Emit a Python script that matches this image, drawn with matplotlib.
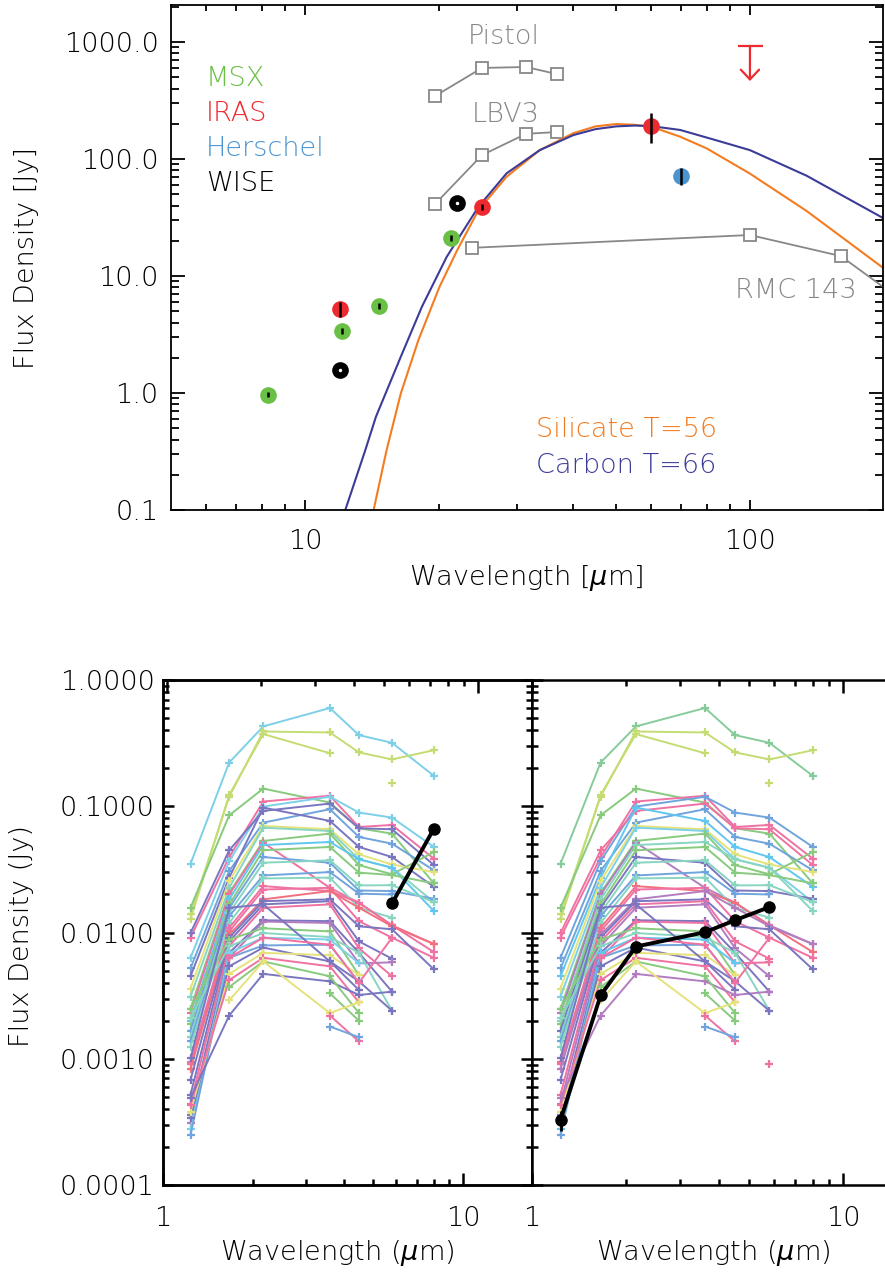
import matplotlib
matplotlib.use('Agg')
import matplotlib.pyplot as plt
import numpy as np
from matplotlib.ticker import LogLocator, NullFormatter

plt.rcParams['font.family'] = ['DejaVu Sans']
plt.rcParams['font.weight'] = 'light'
plt.rcParams['mathtext.fontset'] = 'dejavusans'

# ---------------- top panel data (Jy) ----------------
msx_wave = [8.28, 12.13, 14.65, 21.3]
msx_flux = [0.97, 3.39, 5.54, 21.1]
msx_err = [0.05, 0.18, 0.3, 1.1]

iras_wave = [12.0, 25.0, 60.0]
iras_flux = [5.2, 39.1, 191.0]
iras_err = [0.77, 2.2, 55.0]
iras_ul_wave = 100.0
iras_ul_flux = 925.0
iras_ul_tip = 464.0

wise_wave = [12.0, 22.0]
wise_flux = [1.57, 42.0]

herschel_wave = [70.0]
herschel_flux = [71.6]
herschel_err = [12.0]

pistol_wave = [19.6, 25.0, 31.4, 36.8]
pistol_flux = [345, 600, 611, 532]
lbv3_wave = [19.6, 25.0, 31.4, 36.8]
lbv3_flux = [41.2, 108, 164, 170]
rmc143_wave = [23.7, 100, 160, 250]
rmc143_flux = [17.4, 22.4, 14.8, 4.3]

sil_wave = [14.25, 15.26, 16.42, 17.99, 20.07, 22.0, 24.55, 28.4, 33.7, 40.1,
            45.0, 50.1, 55.0, 60.0, 69.7, 80.0, 100.0, 134.0, 200.0]
sil_flux = [0.098, 0.326, 0.99, 2.84, 8.11, 16.7, 36.6, 70.6, 119, 166,
            190, 199, 196, 189, 155, 123, 75, 36, 11.6]
carb_wave = [12.3, 13.67, 14.44, 16.42, 18.32, 20.83, 24.55, 28.4, 33.7, 40.1,
             45.0, 50.1, 55.0, 60.0, 69.7, 83.7, 100.0, 134.0, 200.0]
carb_flux = [0.098, 0.326, 0.627, 2.04, 5.47, 14.6, 39.1, 75.5, 119, 160,
             180, 190, 193, 191, 177, 145, 119, 72, 31]

# ---------------- bottom panels data (Jy) ----------------
bands = np.array([1.235, 1.662, 2.159, 3.6, 4.5, 5.8, 8.0])
n = np.nan
sources = [
    [.035, .222, .429, .600, .366, .318, .174],
    [.0139, .119, .391, .384, .267, .235, .278],
    [.0127, .123, .373, .263, n, n, n],
    [n, n, n, n, n, .152, n],
    [.0157, .0848, .138, .107, .0669, .0607, .0245],
    [.0091, .0396, .109, .121, .0685, .0711, .0384],
    [.0063, .0368, .0994, .119, .0891, .0813, .0476],
    [.0099, .0448, .0918, .105, .0669, .0657, .0342],
    [.0052, .0307, .0742, .0947, .0571, .0505, .0311],
    [.0045, .0272, .0976, .0765, .0476, .0396, .0230],
    [.0036, .0256, .0698, .0657, .0416, .0346, .0301],
    [.0031, .0226, .0677, .0637, .0380, .0326, .0174],
    [.0025, .0206, .0531, .0607, .0342, .0289, .0434],
    [.0023, .0200, .0515, .0226, .0172, .0114, .0081],
    [.0020, .0183, .0493, .0521, .0380, .0326, .0148],
    [.0019, .0167, .0448, .0476, .0298, .0285, .0245],
    [.00167, .0157, .0396, .0357, .0215, .0213, .0185],
    [.0015, .0143, .0357, .0373, .0236, .0237, .0174],
    [.00137, .0135, .0283, .0301, .0203, .0200, n],
    [.00125, .0119, .0268, .0272, .0157, .0131, n],
    [.00095, .0109, .0233, .0213, .0172, .0114, .0070],
    [.00091, .0102, .0219, .0226, .0123, .0091, .0063],
    [.00083, .0096, .0183, .0213, .0157, .0112, .0081],
    [.00068, .0091, .0177, .0183, .0112, .0106, .0051],
    [.00052, .0085, .0167, .0177, .0085, .0062, n],
    [.00044, .0078, .0157, .0167, .0075, .0045, n],
    [.00036, .0069, .0125, .0123, .0069, .0034, n],
    [.00031, .0063, .0122, .0119, .0057, .0058, n],
    [.0025, .0088, .0108, .0102, .0046, n, n],
    [.0021, .0078, .0099, .0092, .0069, .0024, n],
    [.00028, .0069, .0091, .0088, .0057, n, n],
    [.00025, .0063, .0079, .0080, .0040, n, n],
    [.00034, .0054, .0076, .0059, .0035, n, n],
    [.00038, .0047, .0069, .0066, .0046, n, n],
    [.00043, .0042, .0063, .0054, .0028, n, n],
    [.00049, .0022, .0047, .0041, .0032, .0034, n],
    [n, .0037, .0059, .0045, .0023, n, n],
    [n, n, n, .0033, .0020, n, n],
    [n, .0029, .0059, .0023, .0028, n, n],
    [n, n, n, .0022, .00137, n, n],
    [n, n, n, .0018, .00148, n, n],
    [.00101, .0157, .0167, .0059, .0041, .0024, n],
    [n, .0063, .0091, .0080, .0040, .0091, n],
]
colors_left = ['cyan', 'ygreen', 'ygreen', 'ygreen', 'green', 'pink', 'cyan', 'purple',
               'blue', 'purple', 'yellow', 'teal', 'green', 'pink', 'sky', 'green',
               'blue', 'teal', 'blue', 'teal', 'pink', 'pink', 'red', 'purple',
               'purple', 'pink', 'purple', 'magenta', 'green', 'teal', 'cyan', 'blue',
               'purple', 'yellow', 'pink', 'purple', 'green', 'green', 'yellow', 'pink',
               'blue', 'purple', 'pink']
colors_right = ['mint', 'ygreen', 'ygreen', 'ygreen', 'green', 'pink', 'blue', 'pink',
                'blue', 'sky', 'yellow', 'cyan', 'green', 'magenta', 'teal', 'green',
                'purple', 'teal', 'blue', 'teal', 'red', 'pink', 'magenta', 'purple',
                'pink', 'magenta', 'purple', 'pink', 'green', 'teal', 'sky', 'blue',
                'purple', 'yellow', 'pink', 'magenta', 'green', 'green', 'yellow', 'pink',
                'blue', 'purple', 'pink']
palette = {'cyan': '#7dd0e8', 'ygreen': '#c4dc72', 'green': '#88ca7e', 'pink': '#ef72a2',
           'purple': '#7a76c0', 'blue': '#70a4de', 'yellow': '#e6e27a', 'teal': '#88d6c2',
           'red': '#f2707e', 'magenta': '#b47cc0', 'sky': '#62c6ee', 'mint': '#86cc9a'}

left_black_wave = [5.8, 8.0]
left_black_flux = [0.0170, 0.0665]
right_black_wave = [1.235, 1.662, 2.159, 3.6, 4.5, 5.8]
right_black_flux = [0.000328, 0.00318, 0.00774, 0.01005, 0.01252, 0.0159]
right_black_err = [0.00006, 0, 0, 0, 0, 0]
right_extra_wave = [5.8]
right_extra_flux = [0.00091]

fs = 19.5
fig = plt.figure(figsize=(8.85, 12.74), dpi=100)

# ================= top panel =================
ax = fig.add_axes([171/885, 1-510/1274, 712/885, 505/1274])
ax.set_xscale('log')
ax.set_yscale('log')
ax.set_xlim(10**0.699, 10**2.299)
ax.set_ylim(0.1, 10**3.316)

gray = '#888888'
ax.plot(pistol_wave, pistol_flux, color=gray, lw=1.3, marker='s', ms=9, mfc='white', mec=gray, mew=1.3)
ax.plot(lbv3_wave, lbv3_flux, color=gray, lw=1.3, marker='s', ms=9, mfc='white', mec=gray, mew=1.3)
ax.plot(rmc143_wave, rmc143_flux, color=gray, lw=1.3, marker='s', ms=9, mfc='white', mec=gray, mew=1.3)

ax.plot(sil_wave, sil_flux, color='#f47c20', lw=1.5)
ax.plot(carb_wave, carb_flux, color='#3c3c98', lw=1.5)

ax.plot(msx_wave, msx_flux, 'o', color='#6abf45', ms=12, mec='none')
ax.plot(iras_wave, iras_flux, 'o', color='#ed2a30', ms=12, mec='none')
ax.plot(herschel_wave, herschel_flux, 'o', color='#4a94d0', ms=12, mec='none')
ax.plot(wise_wave, wise_flux, 'o', color='black', ms=12, mec='none')
ax.plot(wise_wave, wise_flux, 'o', color='white', ms=2.5, mec='none')
ax.errorbar(msx_wave, msx_flux, yerr=msx_err, fmt='none', ecolor='black', elinewidth=1.8)
ax.errorbar(iras_wave, iras_flux, yerr=iras_err, fmt='none', ecolor='black', elinewidth=1.8)
ax.errorbar(herschel_wave, herschel_flux, yerr=herschel_err, fmt='none', ecolor='black', elinewidth=1.8)

ax.plot([iras_ul_wave], [iras_ul_flux], marker='_', color='#ed2a30', ms=18, mew=1.6)
ax.annotate('', xy=(iras_ul_wave, iras_ul_tip), xytext=(iras_ul_wave, iras_ul_flux),
            arrowprops=dict(arrowstyle='->,head_length=0.35,head_width=0.33',
                            color='#ed2a30', lw=1.6, shrinkA=0, shrinkB=0, mutation_scale=20))

ax.text(0.049, 0.855, 'MSX', color='#6abf45', fontsize=fs, transform=ax.transAxes, va='center')
ax.text(0.049, 0.786, 'IRAS', color='#ed2a30', fontsize=fs, transform=ax.transAxes, va='center')
ax.text(0.049, 0.716, 'Herschel', color='#4a94d0', fontsize=fs, transform=ax.transAxes, va='center')
ax.text(0.049, 0.646, 'WISE', color='black', fontsize=fs, transform=ax.transAxes, va='center')
ax.text(0.5126, 0.160, 'Silicate T=56', color='#f47c20', fontsize=fs, transform=ax.transAxes, va='center')
ax.text(0.5126, 0.089, 'Carbon T=66', color='#3c3c98', fontsize=fs, transform=ax.transAxes, va='center')
ax.text((468-171)/712, (510-37)/505, 'Pistol', color=gray, fontsize=fs, transform=ax.transAxes, va='center')
ax.text((472-171)/712, (510-114)/505, 'LBV3', color=gray, fontsize=fs, transform=ax.transAxes, va='center')
ax.text((735-171)/712, (510-290)/505, 'RMC 143', color=gray, fontsize=fs, transform=ax.transAxes, va='center')

ax.set_xticks([10, 100])
ax.set_xticklabels(['10', '100'])
ax.set_yticks([0.1, 1, 10, 100, 1000])
ax.set_yticklabels(['0.1', '1.0', '10.0', '100.0', '1000.0'])
ax.xaxis.set_minor_locator(LogLocator(subs=np.arange(2, 10)))
ax.yaxis.set_minor_locator(LogLocator(subs=np.arange(2, 10)))
ax.xaxis.set_minor_formatter(NullFormatter())
ax.yaxis.set_minor_formatter(NullFormatter())
ax.tick_params(which='both', direction='in', top=True, right=True, width=1.3, labelsize=fs)
ax.tick_params(axis='x', which='major', length=7.5, pad=14)
ax.tick_params(axis='x', which='minor', length=4)
ax.tick_params(axis='y', which='major', length=10, pad=9)
ax.tick_params(axis='y', which='minor', length=6)
for sp in ax.spines.values():
    sp.set_linewidth(1.3)

fig.text(526/885, 1-578/1274, 'Wavelength [$\\mu$m]', fontsize=fs, ha='center', va='center')
fig.text(27/885, 1-258/1274, 'Flux Density [Jy]', fontsize=fs, ha='center', va='center', rotation=90)

# ================= bottom panels =================
def bottom_axes(rect, xmax):
    a = fig.add_axes(rect)
    a.set_xscale('log')
    a.set_yscale('log')
    a.set_xlim(1, xmax)
    a.set_ylim(1e-4, 1.0)
    a.set_xticks([1, 10])
    a.set_xticklabels(['1', '10'])
    a.set_yticks([1e-4, 1e-3, 1e-2, 1e-1, 1])
    a.set_yticklabels(['0.0001', '0.0010', '0.0100', '0.1000', '1.0000'])
    a.xaxis.set_minor_locator(LogLocator(subs=np.arange(2, 10)))
    a.yaxis.set_minor_locator(LogLocator(subs=np.arange(2, 10)))
    a.xaxis.set_minor_formatter(NullFormatter())
    a.yaxis.set_minor_formatter(NullFormatter())
    a.tick_params(which='both', direction='in', right=True, width=1.8, labelsize=fs)
    a.tick_params(axis='x', which='major', length=9, pad=15)
    a.tick_params(axis='x', which='minor', length=4.5)
    a.tick_params(axis='y', which='major', length=8, pad=6)
    a.tick_params(axis='y', which='minor', length=4)
    for sp in a.spines.values():
        sp.set_linewidth(1.8)
    return a

def draw_sources(a, cols):
    for vals, c in zip(sources, cols):
        vals = np.array(vals)
        m = ~np.isnan(vals)
        a.plot(bands[m], vals[m], color=palette[c], lw=1.4, marker='+', ms=6, mew=1.6)

axL = bottom_axes([163/885, 1-1185/1274, 369/885, 505/1274], 10**(369/300))
draw_sources(axL, colors_left)
axL.plot(left_black_wave, left_black_flux, color='black', lw=2.8, marker='o', ms=8)
topL = axL.twiny()
topL.set_xscale('log')
topL.set_xlim(10**(-4/311), 10**(365/311))
topL.xaxis.set_minor_locator(LogLocator(subs=np.arange(2, 10)))
topL.xaxis.set_minor_formatter(NullFormatter())
topL.tick_params(which='both', direction='in', labeltop=False, width=1.8)
topL.tick_params(which='major', length=9)
topL.tick_params(which='minor', length=4.5)
for sp in topL.spines.values():
    sp.set_linewidth(1.8)
axL.tick_params(which='both', top=False)

axR = bottom_axes([532/885, 1-1185/1274, 369/885, 505/1274], 10**(369/311))
draw_sources(axR, colors_right)
axR.plot(right_extra_wave, right_extra_flux, linestyle='none', color=palette['pink'], marker='+', ms=6, mew=1.6)
axR.errorbar(right_black_wave, right_black_flux, yerr=right_black_err, color='black', lw=2.8,
             marker='o', ms=8, elinewidth=2, capsize=0)
axR.tick_params(which='both', top=True, labelleft=False)

fig.text(337/885, 1-1253/1274, 'Wavelength ($\\mu$m)', fontsize=fs, ha='center', va='center')
fig.text(713/885, 1-1253/1274, 'Wavelength ($\\mu$m)', fontsize=fs, ha='center', va='center')
fig.text(22/885, 1-936/1274, 'Flux Density (Jy)', fontsize=fs, ha='center', va='center', rotation=90)

fig.savefig('out.png', dpi=100)
